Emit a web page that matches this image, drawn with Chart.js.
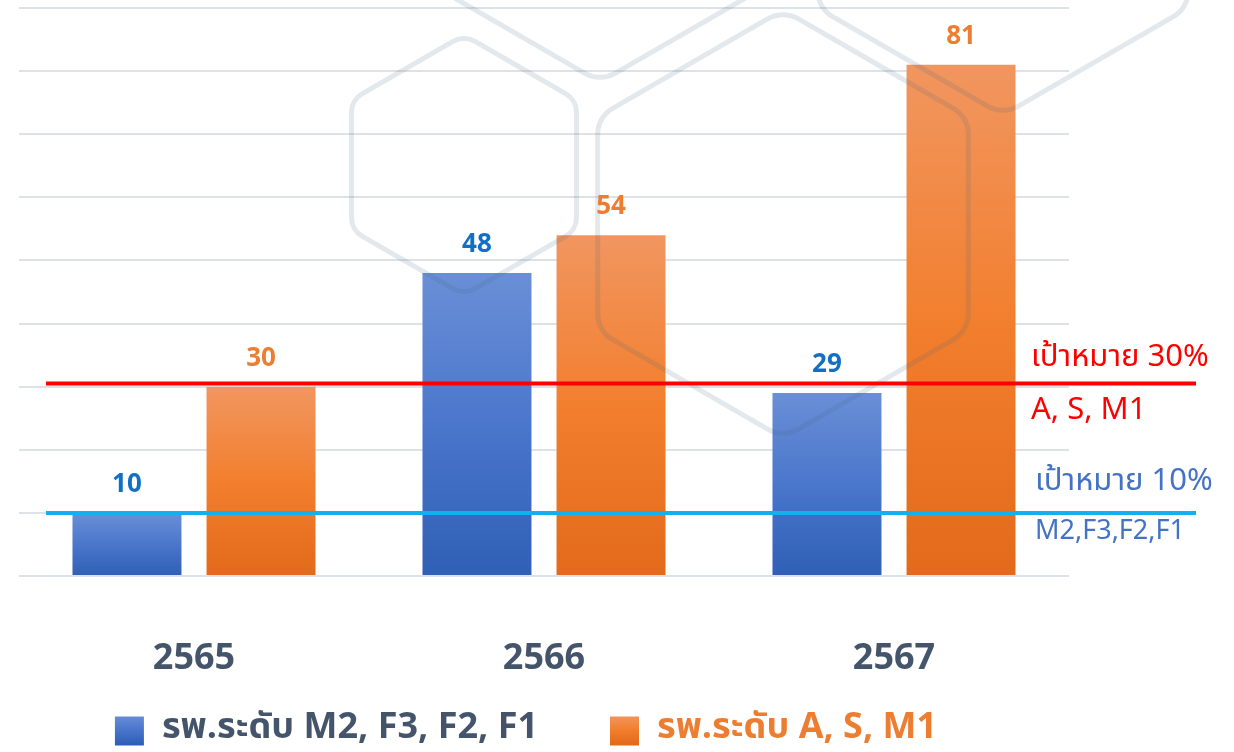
<!DOCTYPE html>
<html>
<head>
<meta charset="utf-8">
<script src="https://cdn.jsdelivr.net/npm/chart.js@4.4.1/dist/chart.umd.min.js"></script>
<style>
  html, body { margin: 0; padding: 0; background: #ffffff; }
  #wrap { width: 1234px; height: 752px; position: relative; }
</style>
</head>
<body>
<div id="wrap"><canvas id="c" width="1234" height="752"></canvas></div>
<script>
// ---- data ----
const categories = ['2565', '2566', '2567'];
const seriesNames = ['รพ.ระดับ M2, F3, F2, F1', 'รพ.ระดับ A, S, M1'];
const valuesLowLevel = [10, 48, 29];
const valuesHighLevel = [30, 54, 81];
const targetHighValue = 30.5;
const targetLowValue = 10;
const targetHighLabels = ['เป้าหมาย 30%', 'A, S, M1'];
const targetLowLabels = ['เป้าหมาย 10%', 'M2,F3,F2,F1'];
const yMin = 0, yMax = 90, yStep = 10;

const FONT = '"Noto Sans Thai", "Noto Sans", "DejaVu Sans", sans-serif';

function barGradient(ctx, top, bottom, stops) {
  const g = ctx.createLinearGradient(0, top, 0, bottom);
  stops.forEach(s => g.addColorStop(s[0], s[1]));
  return g;
}
const blueStops = [[0, '#6a8fd6'], [0.5, '#4a76cc'], [1, '#2f5fb6']];
const orangeStops = [[0, '#f19660'], [0.5, '#f27f2e'], [1, '#e36a1b']];

function scriptFill(stops, solid) {
  return (c) => {
    const chart = c.chart;
    if (!chart.chartArea || !chart.scales.y || c.parsed === undefined || c.type !== 'data') return solid;
    const y = chart.scales.y;
    const top = y.getPixelForValue(c.parsed.y);
    const bottom = y.getPixelForValue(0);
    if (!isFinite(top) || !isFinite(bottom) || top === bottom) return solid;
    return barGradient(chart.ctx, top, bottom, stops);
  };
}

// watermark hexagons (decorative background overlay)
function roundedPoly(ctx, pts, r) {
  ctx.beginPath();
  const n = pts.length;
  const mid = [(pts[0][0] + pts[1][0]) / 2, (pts[0][1] + pts[1][1]) / 2];
  ctx.moveTo(mid[0], mid[1]);
  for (let i = 1; i <= n; i++) {
    const p = pts[i % n], q = pts[(i + 1) % n];
    ctx.arcTo(p[0], p[1], q[0], q[1], r);
  }
  ctx.closePath();
  ctx.stroke();
}
function hexPts(cx, cy, R) {
  const pts = [];
  for (let i = 0; i < 6; i++) {
    const a = -Math.PI / 2 + i * Math.PI / 3;
    pts.push([cx + R * Math.cos(a), cy + R * Math.sin(a)]);
  }
  return pts;
}
const watermarkPlugin = {
  id: 'watermark',
  afterDatasetsDraw(chart) {
    const ctx = chart.ctx;
    ctx.save();
    ctx.strokeStyle = 'rgba(70,100,130,0.15)';
    ctx.lineWidth = 5;
    ctx.lineJoin = 'round';
    roundedPoly(ctx, hexPts(464, 165, 130), 22);
    roundedPoly(ctx, hexPts(783, 224, 214), 30);
    roundedPoly(ctx, hexPts(600, -132, 214), 30);
    roundedPoly(ctx, hexPts(1003, -99, 214), 30);
    ctx.restore();
  }
};

const targetPlugin = {
  id: 'targets',
  afterDatasetsDraw(chart) {
    const ctx = chart.ctx, y = chart.scales.y, area = chart.chartArea;
    const x0 = area.left + 27, x1 = area.right + 127;
    ctx.save();
    const yh = y.getPixelForValue(targetHighValue);
    ctx.strokeStyle = '#ff0000'; ctx.lineWidth = 4;
    ctx.beginPath(); ctx.moveTo(x0, yh); ctx.lineTo(x1, yh); ctx.stroke();
    const yl = y.getPixelForValue(targetLowValue);
    ctx.strokeStyle = '#10b1ee'; ctx.lineWidth = 4;
    ctx.beginPath(); ctx.moveTo(x0, yl); ctx.lineTo(x1, yl); ctx.stroke();
    ctx.textBaseline = 'middle'; ctx.textAlign = 'left';
    ctx.font = '31px ' + FONT;
    ctx.fillStyle = '#ff0000';
    ctx.fillText(targetHighLabels[0], area.right - 38, yh - 24);
    ctx.fillText(targetHighLabels[1], area.right - 38, yh + 29);
    ctx.fillStyle = '#4472c4';
    ctx.fillText(targetLowLabels[0], area.right - 34, yl - 29);
    ctx.font = '27px ' + FONT;
    ctx.fillText(targetLowLabels[1], area.right - 34, yl + 21);
    ctx.restore();
  }
};

const valueLabelPlugin = {
  id: 'valueLabels',
  afterDatasetsDraw(chart) {
    const ctx = chart.ctx;
    ctx.save();
    ctx.font = 'bold 26px ' + FONT;
    ctx.textAlign = 'center';
    ctx.textBaseline = 'alphabetic';
    chart.data.datasets.forEach((ds, di) => {
      const meta = chart.getDatasetMeta(di);
      ctx.fillStyle = ds.labelColor;
      meta.data.forEach((bar, i) => {
        ctx.fillText(String(ds.data[i]), bar.x, bar.y - 21);
      });
    });
    ctx.restore();
  }
};

const cv = document.getElementById('c');
const gctx = cv.getContext('2d');
function legendGrad(stops) { return barGradient(gctx, 715, 744, stops); }

new Chart(cv, {
  type: 'bar',
  data: {
    labels: categories,
    datasets: [
      {
        label: seriesNames[0],
        data: valuesLowLevel,
        backgroundColor: scriptFill(blueStops, '#4472c4'),
        legendColor: legendGrad(blueStops),
        labelColor: '#1170c4',
        textColor: '#44546a',
        barPercentage: 0.813,
        categoryPercentage: 0.766
      },
      {
        label: seriesNames[1],
        data: valuesHighLevel,
        backgroundColor: scriptFill(orangeStops, '#ed7d31'),
        legendColor: legendGrad(orangeStops),
        labelColor: '#ed7d31',
        textColor: '#ed7d31',
        barPercentage: 0.813,
        categoryPercentage: 0.766
      }
    ]
  },
  options: {
    responsive: false,
    animation: false,
    devicePixelRatio: 1,
    layout: { padding: { left: -17, right: 165, top: 8, bottom: -7 } },
    scales: {
      x: {
        grid: { display: false },
        border: { display: false },
        ticks: { color: '#44546a', font: { family: FONT, size: 36, weight: 'bold' }, padding: 56 },
        afterFit(s) { s.height = 100; }
      },
      y: {
        min: yMin, max: yMax,
        ticks: { stepSize: yStep, display: false },
        grid: { color: '#dde2e8', lineWidth: 2, drawTicks: false },
        border: { display: false },
        afterFit(s) { s.width = 36; }
      }
    },
    plugins: {
      tooltip: { enabled: false },
      legend: {
        position: 'bottom',
        title: { display: true, text: '', font: { size: 10 }, padding: { top: -23.5, bottom: -23.5 } },
        labels: {
          boxWidth: 29, boxHeight: 29, padding: 72,
          font: { family: FONT, size: 36, weight: 'bold' },
          generateLabels(chart) {
            return chart.data.datasets.map((ds, i) => ({
              text: ds.label,
              fillStyle: ds.legendColor,
              strokeStyle: 'rgba(0,0,0,0)',
              lineWidth: 0,
              fontColor: ds.textColor,
              hidden: false,
              datasetIndex: i
            }));
          }
        }
      }
    }
  },
  plugins: [watermarkPlugin, targetPlugin, valueLabelPlugin]
});
</script>
</body>
</html>
